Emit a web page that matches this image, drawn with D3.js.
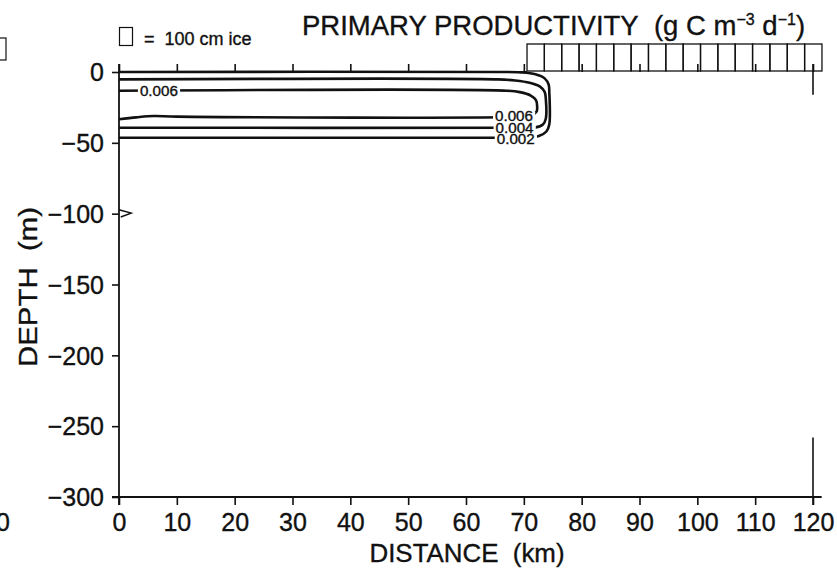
<!DOCTYPE html>
<html>
<head>
<meta charset="utf-8">
<script src="https://cdn.jsdelivr.net/npm/d3@7"></script>
<style>
  body { margin: 0; background: #fff; }
  text { font-family: "Liberation Sans", Arial, Helvetica, sans-serif; fill: #111; stroke: #111; stroke-width: 0.35; }
</style>
</head>
<body>
<script>
var width = 837, height = 575;
var xTicks = [0, 10, 20, 30, 40, 50, 60, 70, 80, 90, 100, 110, 120];
var yTicks = [0, -50, -100, -150, -200, -250, -300];
// ice boxes: start (km) and thickness (cm), 3 km wide each
var iceStart = [70.55, 73.55, 76.55, 79.55, 82.55, 85.55, 88.55, 91.55, 94.55, 97.55, 100.55, 103.55, 106.55, 109.55, 112.55, 115.55, 118.55];
var iceThick = [100, 100, 100, 100, 100, 100, 100, 100, 100, 100, 100, 100, 100, 100, 100, 100, 100];
var iceWidth = 3;

// contour lines [km, depth m]
var c002 = [[0, 0], [66, 0], [69.5, -0.3], [72, -1.6], [73.6, -4.5], [74.3, -9], [74.4, -14], [74.4, -37], [73.9, -42], [72.6, -45.2], [70.5, -46.4], [66, -46.4], [0, -46.4]];
var c004 = [[0, -5.2], [65.5, -5.2], [68.5, -6], [71, -7.6], [72.8, -10.3], [73.6, -14], [73.8, -19], [73.8, -33], [73.3, -37], [72, -39.1], [69.5, -39.3], [0, -39.3]];
var c006 = [[0, -13.2], [67, -13.2], [69.3, -14.2], [71.2, -16.6], [72.1, -19.8], [72.3, -24], [72.2, -28], [71.3, -30.6], [69.5, -31.5], [10, -31.5], [6, -31.1], [3, -32], [0, -33.3]];
var contours = [c002, c004, c006];
var labels = [
  {t: "0.006", x: 6.9, y: -13.2},
  {t: "0.006", x: 68.3, y: -31.2},
  {t: "0.004", x: 68.4, y: -39.2},
  {t: "0.002", x: 68.6, y: -47.6}
];

var svg = d3.select("body").append("svg")
  .attr("width", width)
  .attr("height", height);

var x = d3.scaleLinear().domain([0, 120]).range([119, 813]);
var y = d3.scaleLinear().domain([-300, 0]).range([497, 72]);
var iceH = d3.scaleLinear().domain([0, 100]).range([0, 27]);

// bottom axis
var gb = svg.append("g")
  .attr("transform", "translate(0," + y(-300) + ")")
  .call(d3.axisBottom(x).tickValues(xTicks).tickSize(8).tickSizeOuter(0).tickPadding(8));
gb.select(".domain").remove();
gb.selectAll("text").attr("font-size", 25).attr("dy", "0.71em");

// top axis, ticks only
var gt = svg.append("g")
  .attr("transform", "translate(0," + y(0) + ")")
  .call(d3.axisTop(x).tickValues(xTicks).tickSize(8).tickFormat(""));
gt.select(".domain").remove();

// left axis
var gl = svg.append("g")
  .attr("transform", "translate(" + x(0) + ",0)")
  .call(d3.axisLeft(y).tickValues(yTicks).tickSize(7).tickSizeOuter(0).tickPadding(8)
    .tickFormat(function(d) { return d == 0 ? "0" : "\u2212" + Math.abs(d); }));
gl.select(".domain").remove();
gl.selectAll("text").attr("font-size", 25).attr("dy", "0.35em");

svg.selectAll(".tick line").attr("stroke", "#111").attr("stroke-width", 1.6);

// frame lines
svg.append("line").attr("x1", x(0)).attr("x2", x(0)).attr("y1", y(0) - 8).attr("y2", y(-300) + 8)
  .attr("stroke", "#111").attr("stroke-width", 1.8);
svg.append("line").attr("x1", x(0) - 7).attr("x2", x(121.5)).attr("y1", y(-300)).attr("y2", y(-300))
  .attr("stroke", "#111").attr("stroke-width", 1.8);
svg.append("line").attr("x1", x(0)).attr("x2", x(iceStart[0])).attr("y1", y(0)).attr("y2", y(0))
  .attr("stroke", "#111").attr("stroke-width", 2);
// right edge, only partly visible
svg.append("line").attr("x1", x(120)).attr("x2", x(120)).attr("y1", y(-258)).attr("y2", y(-300) + 8)
  .attr("stroke", "#111").attr("stroke-width", 1.6);
svg.append("line").attr("x1", x(120)).attr("x2", x(120)).attr("y1", y(0) - 8).attr("y2", y(-16))
  .attr("stroke", "#111").attr("stroke-width", 1.6);

// ice
svg.selectAll("rect.ice").data(iceStart).enter().append("rect")
  .attr("class", "ice")
  .attr("x", function(d) { return x(d); })
  .attr("y", function(d, i) { return y(0) - 1 - iceH(iceThick[i]); })
  .attr("width", function(d) { return x(d + iceWidth) - x(d); })
  .attr("height", function(d, i) { return iceH(iceThick[i]); })
  .attr("fill", "none")
  .attr("stroke", "#111")
  .attr("stroke-width", 1.3);

// contours
var line = d3.line()
  .x(function(d) { return x(d[0]); })
  .y(function(d) { return y(d[1]); })
  .curve(d3.curveCatmullRom.alpha(0.5));

svg.selectAll("path.cont").data(contours).enter().append("path")
  .attr("class", "cont")
  .attr("d", line)
  .attr("fill", "none")
  .attr("stroke", "#111")
  .attr("stroke-width", 2.6);

// contour labels with a white gap in the line
var lab = svg.selectAll("g.lab").data(labels).enter().append("g").attr("class", "lab")
  .attr("transform", function(d) { return "translate(" + x(d.x) + "," + y(d.y) + ")"; });
lab.append("text")
  .attr("text-anchor", "middle")
  .attr("dy", "0.36em")
  .attr("font-size", 14)
  .attr("textLength", 38)
  .attr("lengthAdjust", "spacingAndGlyphs")
  .text(function(d) { return d.t; });
lab.each(function() {
  var g = d3.select(this);
  var bb = g.select("text").node().getBBox();
  g.insert("rect", "text")
    .attr("x", bb.x - 2).attr("y", -4.5)
    .attr("width", bb.width + 4).attr("height", 9)
    .attr("fill", "#fff");
});

// arrow mark at -100
svg.append("path")
  .attr("d", d3.line()([[x(0), y(-97.2)], [x(2.1), y(-99.6)], [x(0.3), y(-102.4)]]))
  .attr("fill", "none").attr("stroke", "#111").attr("stroke-width", 1.5);

// title
svg.append("text")
  .attr("x", 302).attr("y", 35)
  .attr("font-size", 27.5)
  .html('PRIMARY PRODUCTIVITY&#160;&#160;(g C m<tspan dy="-10" font-size="16">\u22123</tspan><tspan dy="10"> d</tspan><tspan dy="-10" font-size="16">\u22121</tspan><tspan dy="10">)</tspan>');

// legend
svg.append("rect").attr("x", 119.5).attr("y", 27.5).attr("width", 13).attr("height", 18)
  .attr("fill", "none").attr("stroke", "#111").attr("stroke-width", 1.2);
svg.append("text").attr("x", 144).attr("y", 45).attr("font-size", 18)
  .attr("xml:space", "preserve").text("=  100 cm ice");

// axis titles
svg.append("text").attr("x", 467).attr("y", 562).attr("text-anchor", "middle")
  .attr("font-size", 25).attr("textLength", 195).attr("lengthAdjust", "spacingAndGlyphs")
  .attr("xml:space", "preserve").text("DISTANCE  (km)");
svg.append("text").attr("transform", "translate(37,287) rotate(-90)").attr("text-anchor", "middle")
  .attr("font-size", 26).attr("textLength", 160).attr("lengthAdjust", "spacingAndGlyphs")
  .attr("xml:space", "preserve").text("DEPTH  (m)");

// bits of the neighbouring panel at the left edge
svg.append("text").attr("x", 3).attr("y", 531).attr("text-anchor", "middle").attr("font-size", 25).text("0");
svg.append("rect").attr("x", -8).attr("y", 38).attr("width", 14).attr("height", 22)
  .attr("fill", "none").attr("stroke", "#111").attr("stroke-width", 1.2);
</script>
</body>
</html>
